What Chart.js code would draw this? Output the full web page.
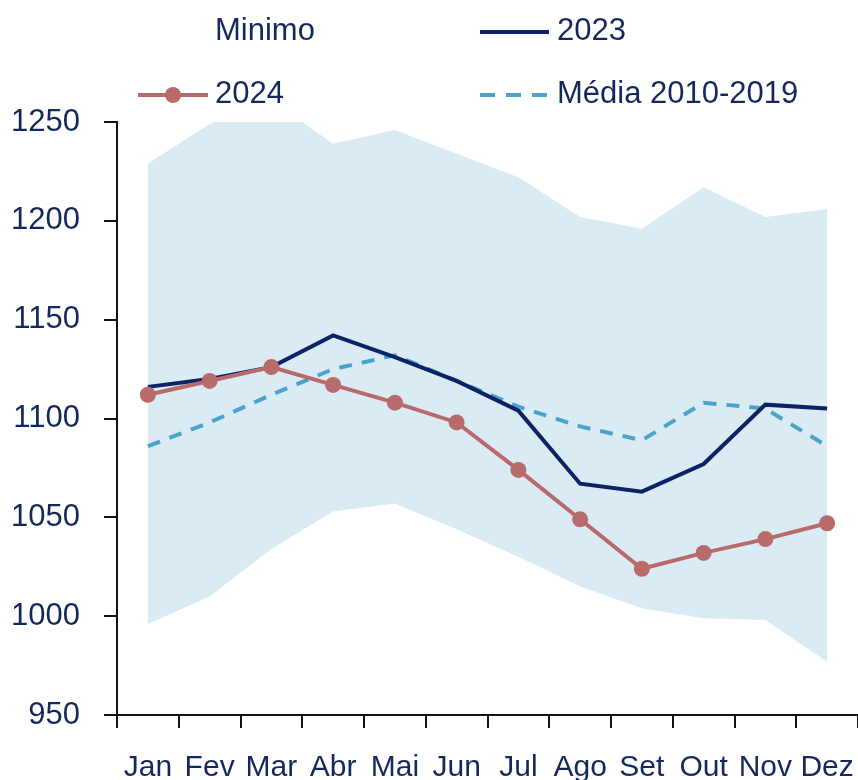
<!DOCTYPE html>
<html>
<head>
<meta charset="utf-8">
<script src="https://cdn.jsdelivr.net/npm/chart.js@4"></script>
<style>
  body { margin: 0; background: #fff; }
  #wrap { position: relative; width: 858px; height: 780px; }
  #legend { position: absolute; left: 0; top: 0; width: 858px; height: 120px;
    font-family: "Liberation Sans", Arial, sans-serif; font-size: 31px; color: #13295e; }
  .item { position: absolute; height: 40px; line-height: 40px; white-space: nowrap; }
  .item svg { position: absolute; top: 0; }
</style>
</head>
<body>
<div id="wrap">
  <canvas id="chart" width="858" height="780"></canvas>
  <div id="legend"></div>
</div>
<script>
const months = ["Jan", "Fev", "Mar", "Abr", "Mai", "Jun", "Jul", "Ago", "Set", "Out", "Nov", "Dez"];
const maximo = [1229, 1249, 1261, 1239, 1246, 1234, 1222, 1202, 1196, 1217, 1202, 1206];
const minimo = [996, 1010, 1034, 1053, 1057, 1044, 1030, 1015, 1004, 999, 998, 977];
const y2023 = [1116, 1120, 1126, 1142, 1131, 1119, 1104, 1067, 1063, 1077, 1107, 1105];
const y2024 = [1112, 1119, 1126, 1117, 1108, 1098, 1074, 1049, 1024, 1032, 1039, 1047];
const media = [1086, 1098, 1112, 1125, 1132, 1119, 1106, 1096, 1089, 1108, 1105, 1086];
const yTicks = [950, 1000, 1050, 1100, 1150, 1200, 1250];

const navy = "#0b2265";
const rose = "#b96b6b";
const sky = "#4aa3cb";
const band = "#daebf4";
const textColor = "#13295e";
const fontFamily = "'Liberation Sans', Arial, sans-serif";

// legend drawn as html, laid out in two columns like the original
const legendItems = [
  { label: "Minimo", x: 138, y: 10, kind: "none" },
  { label: "2023", x: 480, y: 10, kind: "solid", color: navy },
  { label: "2024", x: 138, y: 73, kind: "marker", color: rose },
  { label: "Média 2010-2019", x: 480, y: 73, kind: "dash", color: sky },
];

function buildLegend() {
  const box = document.getElementById("legend");
  legendItems.forEach((it) => {
    const div = document.createElement("div");
    div.className = "item";
    div.style.left = it.x + "px";
    div.style.top = it.y + "px";
    let svg = "";
    if (it.kind === "solid") {
      svg = `<line x1="0" y1="22" x2="69" y2="22" stroke="${it.color}" stroke-width="4"/>`;
    } else if (it.kind === "marker") {
      svg = `<line x1="0" y1="22" x2="70" y2="22" stroke="${it.color}" stroke-width="4"/>` +
        `<circle cx="35" cy="22" r="8" fill="${it.color}"/>`;
    } else if (it.kind === "dash") {
      svg = `<line x1="0" y1="22" x2="69" y2="22" stroke="${it.color}" stroke-width="4" stroke-dasharray="15 11"/>`;
    }
    div.innerHTML = `<svg width="72" height="40">${svg}</svg><span style="margin-left:77px">${it.label}</span>`;
    box.appendChild(div);
  });
}
buildLegend();

const ctx = document.getElementById("chart").getContext("2d");

new Chart(ctx, {
  type: "line",
  data: {
    labels: months,
    datasets: [
      {
        label: "2024",
        data: y2024,
        borderColor: rose,
        backgroundColor: rose,
        borderWidth: 4,
        pointRadius: 8,
        pointBackgroundColor: rose,
        pointBorderWidth: 0,
        fill: false,
      },
      {
        label: "2023",
        data: y2023,
        borderColor: navy,
        borderWidth: 4,
        pointRadius: 0,
        fill: false,
      },
      {
        label: "Média 2010-2019",
        data: media,
        borderColor: sky,
        borderWidth: 4,
        borderDash: [13, 10],
        pointRadius: 0,
        fill: false,
      },
      {
        label: "Maximo",
        data: maximo,
        borderWidth: 0,
        borderColor: "rgba(0,0,0,0)",
        backgroundColor: band,
        pointRadius: 0,
        fill: "+1",
      },
      {
        label: "Minimo",
        data: minimo,
        borderWidth: 0,
        borderColor: "rgba(0,0,0,0)",
        pointRadius: 0,
        fill: false,
      },
    ],
  },
  options: {
    responsive: false,
    animation: false,
    devicePixelRatio: 1,
    layout: { autoPadding: false, padding: { top: 122, right: 0, bottom: 0, left: 0 } },
    plugins: {
      legend: { display: false },
      tooltip: { enabled: false },
    },
    scales: {
      x: {
        offset: true,
        grid: { drawOnChartArea: false, drawTicks: true, tickLength: 13, offset: true, color: "#111", lineWidth: 2 },
        border: { display: true, color: "#111", width: 2 },
        ticks: { color: textColor, font: { family: fontFamily, size: 30 }, padding: 22, maxRotation: 0, autoSkip: false },
        afterFit: (scale) => {
          scale.height = 65;
          scale.paddingLeft = 0;
          scale.paddingRight = 0;
        },
      },
      y: {
        min: 950,
        max: 1250,
        afterBuildTicks: (scale) => { scale.ticks = yTicks.map((v) => ({ value: v })); },
        grid: { drawOnChartArea: false, drawTicks: true, tickLength: 13, color: "#111", lineWidth: 2 },
        border: { display: true, color: "#111", width: 2 },
        ticks: {
          color: textColor,
          font: { family: fontFamily, size: 31 },
          padding: 24,
          callback: (value) => String(value),
        },
        afterFit: (scale) => { scale.width = 117; },
      },
    },
  },
});
</script>
</body>
</html>
